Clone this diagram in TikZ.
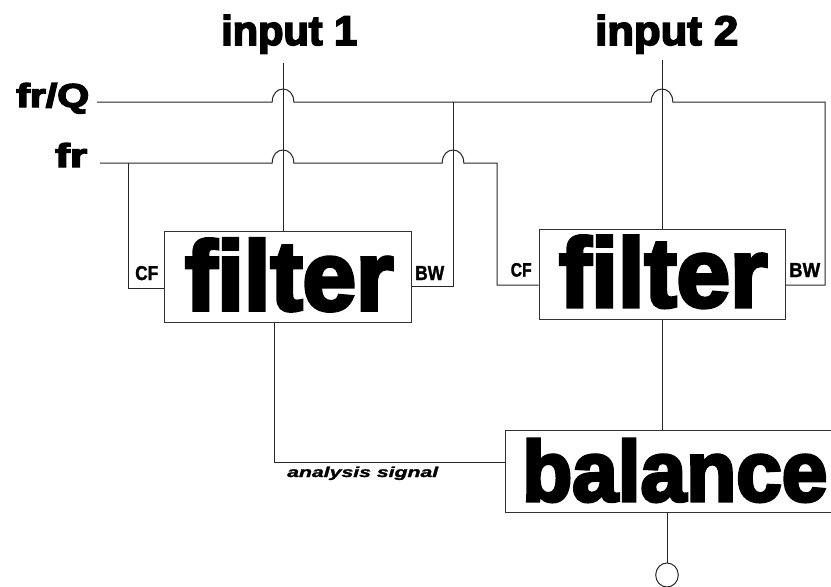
\documentclass[tikz,border=0pt]{standalone}
\usepackage{fontspec}
\setmainfont{Liberation Sans}
\newfontfamily\heavy[FakeBold=4]{Liberation Sans Bold}
\newfontfamily\medb[FakeBold=1.5]{Liberation Sans Bold}
\newfontfamily\heavyit[FakeBold=1.5]{Liberation Sans Bold Italic}
\usetikzlibrary{shapes.geometric}
\begin{document}
\begin{tikzpicture}[x=1pt,y=-1pt,
  wire/.style={draw=black!85, line width=1pt},
  blk/.style={draw=black!80, line width=1pt, inner sep=0pt, fill=white},
  lbl/.style={inner sep=0pt, anchor=base west}]
\useasboundingbox (0,0) rectangle (831,587);
\clip (0,0) rectangle (831,587);
% blocks
\node[blk, minimum width=247.7pt, minimum height=91pt] (f1) at (287.85,277.2) {};
\node[blk, minimum width=246.7pt, minimum height=90.5pt] (f2) at (662.35,274.25) {};
\node[blk, minimum width=354.3pt, minimum height=82.3pt] (bal) at (682.85,471.15) {};
\node[draw=black!85, line width=1pt, ellipse, inner sep=0pt, minimum width=22.6pt, minimum height=24pt] (outc) at (667,575) {};
% coordinates
\coordinate (in1s) at (283,63);
\coordinate (in2s) at (662,60);
\coordinate (frqs) at (97,102);
\coordinate (frs) at (100,163);
\coordinate (j1) at (453,102);
\coordinate (bw1) at (453,286);
\coordinate (bw2) at (825,285);
\coordinate (j2) at (128,163);
\coordinate (cf1) at (128,288);
\coordinate (cf2) at (497,285);
\coordinate (o1) at (274,462);
\coordinate (o2) at (662.7,0);
% wires
\draw[wire] (in1s) -- (in1s |- f1.north);
\draw[wire] (in2s) -- (in2s |- f2.north);
\draw[wire] (frqs) -- (272.2,102) .. controls (272.2,84.7) and (293.8,84.7) .. (293.8,102)
  -- (651.2,102) .. controls (651.2,84.7) and (672.8,84.7) .. (672.8,102)
  -- (825,102) -- (bw2) -- (bw2 -| f2.east);
\draw[wire] (j1) -- (bw1) -- (bw1 -| f1.east);
\draw[wire] (frs) -- (272.2,163) .. controls (272.2,145.7) and (293.8,145.7) .. (293.8,163)
  -- (442.2,163) .. controls (442.2,145.7) and (463.8,145.7) .. (463.8,163)
  -- (497,163) -- (cf2) -- (cf2 -| f2.west);
\draw[wire] (j2) -- (cf1) -- (cf1 -| f1.west);
\draw[wire] (o1 |- f1.south) -- (o1) -- (o1 -| bal.west);
\draw[wire] (o2 |- f2.south) -- (o2 |- bal.north);
\draw[wire] (outc |- bal.south) -- (outc.north);
% texts
\node[lbl] (tin1) at (221,45) {\resizebox{136pt}{30pt}{\heavy input 1}};
\node[lbl] (tin2) at (595,45) {\resizebox{143pt}{30pt}{\heavy input 2}};
\node[lbl] (tfrq) at (16,107) {\resizebox{73pt}{24pt}{\heavy fr/Q}};
\node[lbl] (tfr) at (55,167) {\resizebox{32pt}{24pt}{\heavy fr}};
\node[lbl] (tf1) at (185,310) {\resizebox{208pt}{71pt}{\heavy filter}};
\node[lbl] (tf2) at (559,306.7) {\resizebox{208pt}{70.7pt}{\heavy filter}};
\node[lbl] (tbal) at (522,501) {\resizebox{305pt}{62pt}{\heavy balance}};
\node[lbl] (tcf1) at (135,280) {\resizebox{23pt}{14pt}{\medb CF}};
\node[lbl] (tbw1) at (415,280) {\resizebox{29pt}{14pt}{\medb BW}};
\node[lbl] (tcf2) at (510.5,276.5) {\resizebox{21pt}{13.5pt}{\medb CF}};
\node[lbl] (tbw2) at (789,277) {\resizebox{31pt}{14pt}{\medb BW}};
\node[lbl] (tas) at (287,477) {\resizebox{151pt}{10.5pt}{\heavyit analysis signal}};
\end{tikzpicture}
\end{document}
